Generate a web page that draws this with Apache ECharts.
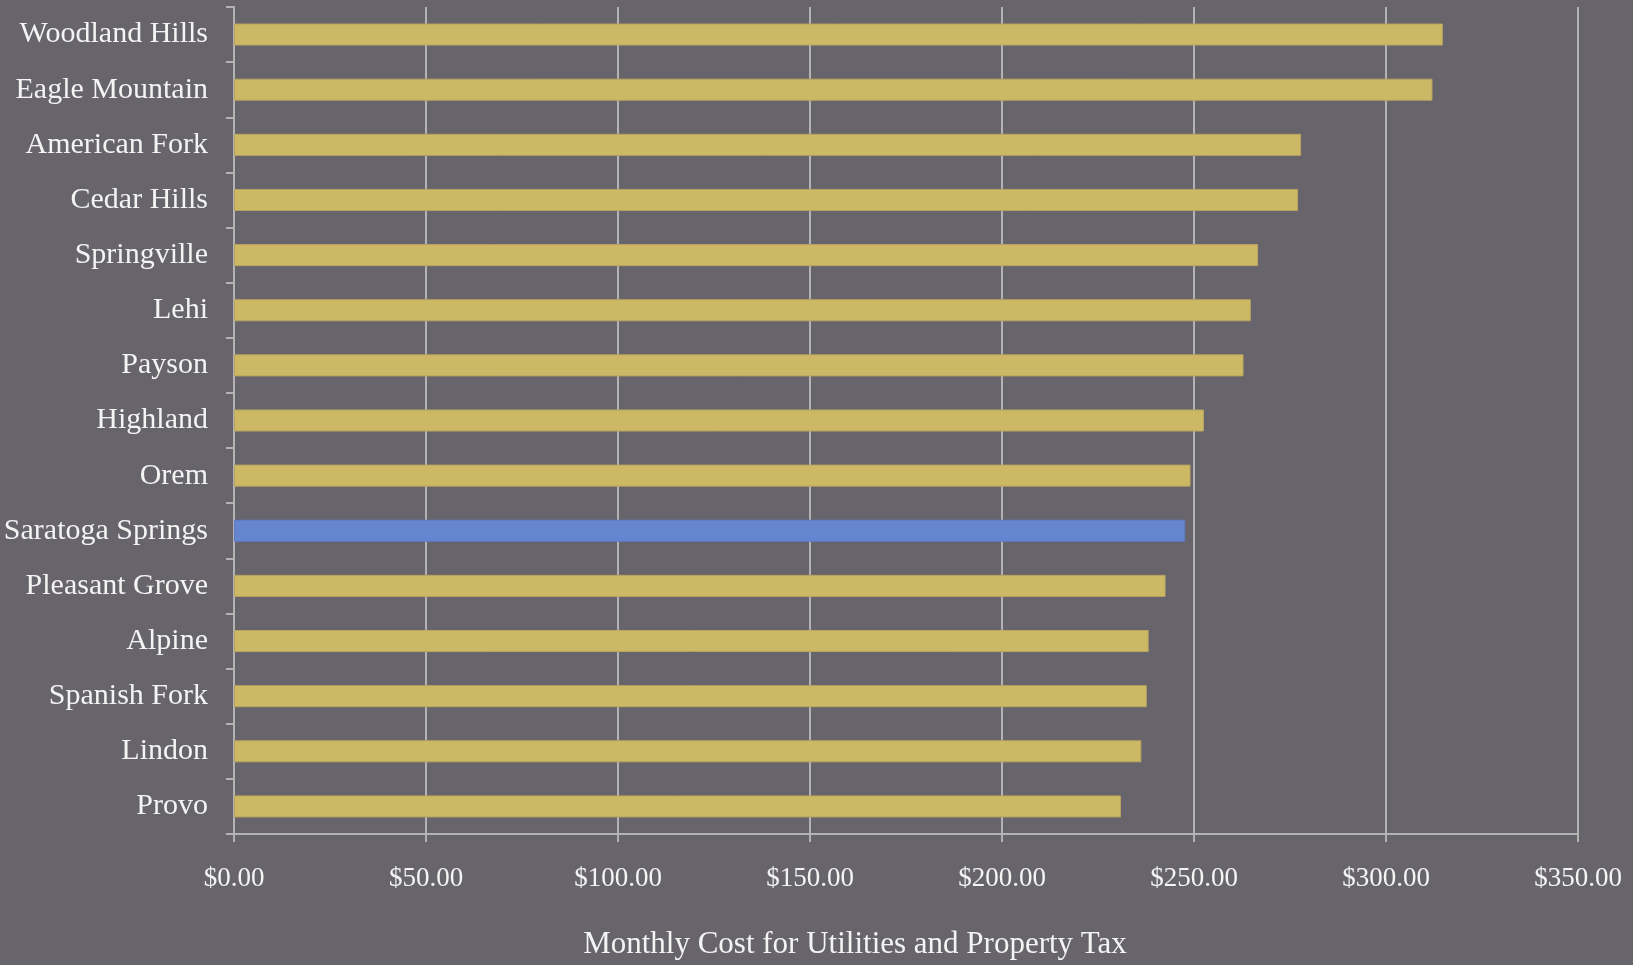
<!DOCTYPE html>
<html>
<head>
<meta charset="utf-8">
<script src="https://cdn.jsdelivr.net/npm/echarts@6/dist/echarts.min.js"></script>
<style>
html,body{margin:0;padding:0;background:#67646C;}
#chart{width:1633px;height:965px;}
</style>
</head>
<body>
<div id="chart"></div>
<script>
const cities = ["Woodland Hills","Eagle Mountain","American Fork","Cedar Hills","Springville","Lehi","Payson","Highland","Orem","Saratoga Springs","Pleasant Grove","Alpine","Spanish Fork","Lindon","Provo"];
const costs = [314.8, 312.1, 277.9, 277.1, 266.7, 264.8, 262.9, 252.6, 249.1, 247.7, 242.6, 238.2, 237.7, 236.3, 231.0];
const highlightCity = "Saratoga Springs";
const xTickValues = [0, 50, 100, 150, 200, 250, 300, 350];
const axisTitle = "Monthly Cost for Utilities and Property Tax";

const chart = echarts.init(document.getElementById('chart'));
const font = "'Liberation Serif', 'DejaVu Serif', serif";
chart.setOption({
  backgroundColor: '#67646C',
  animation: false,
  grid: {left: 234, right: 55, top: 7, bottom: 128, containLabel: false},
  xAxis: {
    type: 'value',
    min: xTickValues[0],
    max: xTickValues[xTickValues.length - 1],
    interval: 50,
    axisLine: {show: true, lineStyle: {color: '#B3B3B3', width: 2}},
    axisTick: {show: true, length: 8, lineStyle: {color: '#B3B3B3', width: 2}},
    splitLine: {show: true, lineStyle: {color: '#B3B3B3', width: 2}},
    axisLabel: {
      color: '#F4F4F4', fontFamily: font, fontSize: 27, margin: 31,
      formatter: v => '$' + v.toFixed(2)
    },
    name: axisTitle,
    nameLocation: 'middle',
    nameGap: 95,
    nameTextStyle: {color: '#F4F4F4', fontFamily: font, fontSize: 31, padding: [0, 102, 0, 0]}
  },
  yAxis: {
    type: 'category',
    data: cities,
    inverse: true,
    axisLine: {show: true, lineStyle: {color: '#B3B3B3', width: 2}},
    axisTick: {show: true, length: 8, alignWithLabel: false, lineStyle: {color: '#B3B3B3', width: 2}},
    splitLine: {show: false},
    axisLabel: {color: '#F4F4F4', fontFamily: font, fontSize: 30, margin: 26}
  },
  series: [{
    type: 'bar',
    barWidth: '40%',
    data: cities.map((c, i) => ({
      value: costs[i],
      itemStyle: c === highlightCity
        ? {color: '#6685D1', borderColor: '#5F7CC4', borderWidth: 1}
        : {color: '#CDB866', borderColor: '#B8A45E', borderWidth: 1}
    }))
  }]
});
</script>
</body>
</html>
